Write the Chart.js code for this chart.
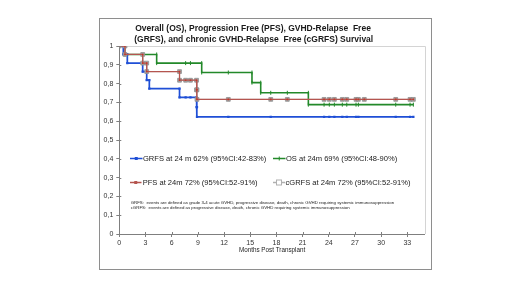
<!DOCTYPE html>
<html>
<head>
<meta charset="utf-8">
<script src="https://cdn.jsdelivr.net/npm/chart.js@4.4.1/dist/chart.umd.min.js"></script>
<style>
  html, body { margin: 0; padding: 0; background: #ffffff; }
  #wrap { position: relative; width: 520px; height: 292px; }
</style>
</head>
<body>
<div id="wrap"><canvas id="c" width="520" height="292"></canvas></div>
<script>
// ---- Data (months post transplant, survival probability) ----
const grfsEventTimes  = [0.46, 0.92, 2.68, 3.14, 3.44, 6.9, 8.85, 8.9];
const grfsSurvival    = [0.955, 0.909, 0.864, 0.818, 0.773, 0.727, 0.675, 0.623];
const grfsCensorTimes = [7.6, 8.15, 12.49, 17.35, 23.46, 24.06, 24.64, 25.55, 26.06, 27.12, 27.39, 31.67, 33.31, 33.69];

const osEventTimes  = [0.65, 4.28, 9.44, 15.2, 16.2, 21.66];
const osSurvival    = [0.955, 0.909, 0.859, 0.805, 0.751, 0.688];
const osCensorTimes = [7.6, 8.15, 12.49, 17.35, 19.25, 23.46, 24.06, 24.64, 25.55, 26.06, 27.12, 27.39, 31.67, 33.31, 33.69];

const pfsEventTimes  = [0.65, 2.68, 3.14, 6.9, 8.85, 8.9];
const pfsSurvival    = [0.955, 0.909, 0.864, 0.818, 0.767, 0.716];
const pfsCensorTimes = [7.6, 8.15, 12.49, 17.35, 19.25, 23.46, 24.06, 24.64, 25.55, 26.06, 27.12, 27.39, 28.07, 31.67, 33.31, 33.69];

const cgrfsEventTimes  = [0.65, 2.68, 3.14, 6.9, 8.85, 8.9];
const cgrfsSurvival    = [0.955, 0.909, 0.864, 0.818, 0.767, 0.716];
const cgrfsCensorTimes = [7.6, 8.15, 12.49, 17.35, 19.25, 23.46, 24.06, 24.64, 25.55, 26.06, 27.12, 27.39, 28.07, 31.67, 33.31, 33.69];

const seriesLabels = [
  'GRFS at 24 m 62% (95%CI:42-83%)',
  'OS at 24m 69% (95%CI:48-90%)',
  'PFS at 24m 72% (95%CI:52-91%)',
  'cGRFS at 24m 72% (95%CI:52-91%)'
];
const titleLines = [
  'Overall (OS), Progression Free (PFS), GVHD-Relapse  Free',
  '(GRFS), and chronic GVHD-Relapse  Free (cGRFS) Survival'
];
const footnotes = [
  'GRFS:  events are defined as grade 3-4 acute GVHD, progressive disease, death, chronic GVHD requiring systemic immunosuppression',
  'cGRFS:  events are defined as progressive disease, death, chronic GVHD requiring systemic immunosuppression'
];
const xAxisTitle = 'Months Post Transplant';
const xTicks = [0, 3, 6, 9, 12, 15, 18, 21, 24, 27, 30, 33];
const yTicks = [0, 0.1, 0.2, 0.3, 0.4, 0.5, 0.6, 0.7, 0.8, 0.9, 1];

// Build Kaplan-Meier step points (corners + censor marks) from events and censors
function kmPoints(eventTimes, survival, censorTimes) {
  const items = [];
  eventTimes.forEach((t, i) => items.push({ t, kind: 'e', s: survival[i] }));
  censorTimes.forEach(t => items.push({ t, kind: 'c' }));
  items.sort((a, b) => a.t - b.t);
  const pts = [{ x: 0, y: 1 }];
  let cur = 1;
  items.forEach(it => {
    if (it.kind === 'e') {
      pts.push({ x: it.t, y: cur });
      cur = it.s;
      pts.push({ x: it.t, y: cur });
    } else {
      pts.push({ x: it.t, y: cur });
    }
  });
  return pts;
}

const BLUE = '#1f4fd6';
const GREEN = '#23892a';
const RED = '#b5554f';
const GRAY = '#a3a3a3';
const FONT = '"Liberation Sans", Arial, sans-serif';

const decorPlugin = {
  id: 'decor',
  beforeDraw(chart) {
    const ctx = chart.ctx;
    ctx.save();
    ctx.fillStyle = '#ffffff';
    ctx.fillRect(0, 0, chart.width, chart.height);
    // outer chart frame
    ctx.strokeStyle = '#8e8e8e';
    ctx.lineWidth = 1;
    ctx.strokeRect(99.5, 18.5, 332, 251);
    // plot area top/right border
    const a = chart.chartArea;
    ctx.strokeStyle = '#d4d4d4';
    ctx.beginPath();
    ctx.moveTo(a.left, Math.round(a.top) + 0.5);
    ctx.lineTo(Math.round(a.right) + 0.5, Math.round(a.top) + 0.5);
    ctx.lineTo(Math.round(a.right) + 0.5, a.bottom);
    ctx.stroke();
    // title
    ctx.fillStyle = '#1a1a1a';
    ctx.font = 'bold 8.5px ' + FONT;
    ctx.textAlign = 'center';
    ctx.textBaseline = 'middle';
    ctx.fillText(titleLines[0], 253, 28.5);
    ctx.fillText(titleLines[1], 253.7, 39.5);
    ctx.restore();
  },
  afterDraw(chart) {
    const ctx = chart.ctx;
    const xs = chart.scales.x, ys = chart.scales.y;
    ctx.save();
    // inner half of crossing tick marks
    ctx.strokeStyle = '#7f7f7f';
    ctx.lineWidth = 1;
    ctx.beginPath();
    xTicks.forEach(v => {
      const px = Math.round(xs.getPixelForValue(v)) + 0.5;
      ctx.moveTo(px, ys.bottom);
      ctx.lineTo(px, ys.bottom - 2);
    });
    yTicks.forEach(v => {
      const py = Math.round(ys.getPixelForValue(v)) + 0.5;
      ctx.moveTo(xs.left, py);
      ctx.lineTo(xs.left + 2, py);
    });
    ctx.stroke();
    ctx.restore();
  },
  afterDatasetsDraw(chart) {
    const ctx = chart.ctx;
    ctx.save();
    // legend inside plot
    ctx.font = '7.55px ' + FONT;
    ctx.textBaseline = 'middle';
    ctx.textAlign = 'left';
    const rows = [
      { x1: 130, x2: 142.5, tx: 143, y: 158.5, color: BLUE, label: seriesLabels[0], mk: 'rect' },
      { x1: 273, x2: 285.5, tx: 286, y: 158.5, color: GREEN, label: seriesLabels[1], mk: 'tick' },
      { x1: 130, x2: 141.5, tx: 142.7, y: 182.5, color: RED, label: seriesLabels[2], mk: 'rect' },
      { x1: 273, x2: 285, tx: 285.5, y: 182.5, color: '#b0b0b0', label: seriesLabels[3], mk: 'hollow' }
    ];
    rows.forEach(r => {
      ctx.strokeStyle = r.color;
      ctx.lineWidth = 1.5;
      ctx.beginPath();
      ctx.moveTo(r.x1, r.y);
      ctx.lineTo(r.x2, r.y);
      ctx.stroke();
      const mx = (r.x1 + r.x2) / 2;
      if (r.mk === 'rect') {
        ctx.fillStyle = r.color;
        ctx.fillRect(mx - 1.5, r.y - 1.5, 3, 3);
      } else if (r.mk === 'tick') {
        ctx.lineWidth = 1;
        ctx.beginPath();
        ctx.moveTo(mx, r.y - 2);
        ctx.lineTo(mx, r.y + 2);
        ctx.stroke();
      } else {
        ctx.fillStyle = '#ffffff';
        ctx.fillRect(mx - 2.5, r.y - 2.5, 5, 5);
        ctx.lineWidth = 1;
        ctx.strokeRect(mx - 2.5, r.y - 2.5, 5, 5);
      }
      ctx.fillStyle = '#1a1a1a';
      ctx.fillText(r.label, r.tx, r.y);
    });
    // footnotes
    ctx.font = '4.35px ' + FONT;
    ctx.fillStyle = '#222222';
    ctx.fillText(footnotes[0], 130.7, 202.3);
    ctx.fillText(footnotes[1], 130.7, 207.7);
    ctx.restore();
  }
};

const ctx = document.getElementById('c').getContext('2d');
new Chart(ctx, {
  type: 'scatter',
  data: {
    datasets: [
      {
        label: seriesLabels[0],
        data: kmPoints(grfsEventTimes, grfsSurvival, grfsCensorTimes),
        showLine: true, borderColor: BLUE, backgroundColor: BLUE, borderWidth: 1.7,
        pointStyle: 'rect', pointRadius: 1.6, pointBorderWidth: 0, order: 2
      },
      {
        label: seriesLabels[1],
        data: kmPoints(osEventTimes, osSurvival, osCensorTimes),
        showLine: true, borderColor: GREEN, backgroundColor: GREEN, borderWidth: 1.6,
        pointStyle: 'line', rotation: 90, pointRadius: 2, pointBorderWidth: 1, order: 3
      },
      {
        label: seriesLabels[3],
        data: kmPoints(cgrfsEventTimes, cgrfsSurvival, cgrfsCensorTimes),
        showLine: true, borderColor: GRAY, backgroundColor: GRAY, borderWidth: 1,
        pointStyle: 'rect', pointRadius: 2.7, pointBorderWidth: 0.8, pointBorderColor: '#8f8f8f', order: 1
      },
      {
        label: seriesLabels[2],
        data: kmPoints(pfsEventTimes, pfsSurvival, pfsCensorTimes),
        showLine: true, borderColor: RED, backgroundColor: '#c0392b', borderWidth: 1.3,
        pointStyle: 'rect', pointRadius: 1.1, pointBorderWidth: 0, order: 0
      }
    ]
  },
  options: {
    responsive: false,
    animation: false,
    events: [],
    layout: { padding: { left: 0, top: 46, right: 95.2, bottom: 38 } },
    plugins: { legend: { display: false }, title: { display: false }, tooltip: { enabled: false } },
    scales: {
      x: {
        type: 'linear', min: 0, max: 35,
        afterFit(scale) { scale.height = 20; },
        afterBuildTicks(scale) { scale.ticks = xTicks.map(v => ({ value: v })); },
        grid: { drawOnChartArea: false, drawTicks: true, tickLength: 3, color: '#7f7f7f' },
        border: { color: '#7f7f7f', width: 1 },
        ticks: { color: '#333333', padding: 2, maxRotation: 0, autoSkip: false,
                 font: { family: FONT, size: 7 } },
        title: { display: true, text: xAxisTitle, color: '#222222', padding: 0,
                 font: { family: FONT, size: 6.3 } }
      },
      y: {
        type: 'linear', min: 0, max: 1,
        afterFit(scale) { scale.width = 119.3; },
        afterBuildTicks(scale) { scale.ticks = yTicks.map(v => ({ value: v })); },
        grid: { drawOnChartArea: false, drawTicks: true, tickLength: 3, color: '#7f7f7f' },
        border: { color: '#7f7f7f', width: 1 },
        ticks: {
          color: '#333333', padding: 3,
          font: { family: FONT, size: 7 },
          callback: v => (v === 0 || v === 1) ? String(v) : v.toFixed(1).replace('.', ',')
        }
      }
    }
  },
  plugins: [decorPlugin]
});
</script>
</body>
</html>
